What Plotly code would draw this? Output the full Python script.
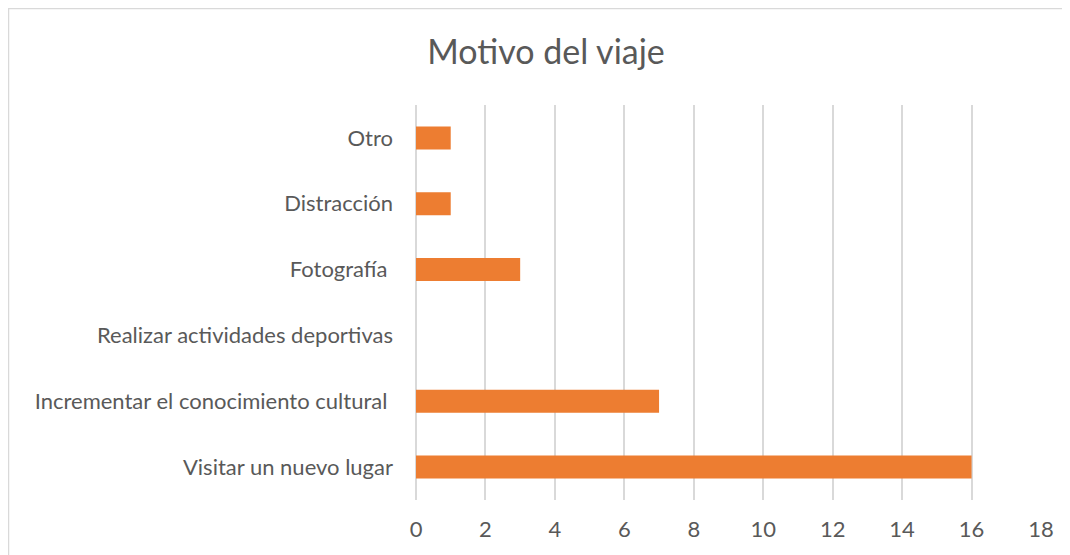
import plotly.graph_objects as go

categories = ["Visitar un nuevo lugar", "Incrementar el conocimiento cultural ",
              "Realizar actividades deportivas", "Fotografía ", "Distracción", "Otro"]
values = [16, 7, 0, 3, 1, 1]
x_ticks = [0, 2, 4, 6, 8, 10, 12, 14, 16, 18]

W, H = 1070, 555
L, R, T, B = 408, 37, 97, 63
pw, ph = W - L - R, H - T - B

fig = go.Figure(go.Bar(
    x=values, y=categories, orientation="h",
    marker=dict(color="#ED7D31", line=dict(width=0)),
))

font = "Lato, Calibri, Carlito, sans-serif"
fig.update_layout(
    width=W, height=H,
    margin=dict(l=L, r=R, t=T, b=B),
    paper_bgcolor="white", plot_bgcolor="white",
    bargap=0.65,
    showlegend=False,
    title=dict(text="Motivo del viaje", x=538 / W, xanchor="center", xref="container",
               y=1 - 44 / H, yanchor="middle", yref="container",
               font=dict(family=font, size=34, color="#595959")),
    font=dict(family=font, color="#595959"),
    xaxis=dict(range=[0, 18], tickvals=x_ticks, showgrid=True, gridcolor="#D9D9D9",
               gridwidth=1.5, zeroline=True, zerolinecolor="#D9D9D9", zerolinewidth=1.5,
               showline=False, ticks="", tickfont=dict(size=22, color="#595959"),
               ticklabelstandoff=14),
    yaxis=dict(type="category", categoryorder="array", categoryarray=categories,
               showgrid=False, zeroline=False, showline=False, ticks="",
               tickfont=dict(size=22, color="#595959"), ticklabelstandoff=22),
    shapes=[dict(type="rect", xref="paper", yref="paper",
                 x0=(0.5 - L) / pw, x1=1.3, y0=-0.5, y1=1 + (T - 0.5) / ph,
                 line=dict(color="#D9D9D9", width=1.5), layer="below")],
)

fig.write_html("out.html")
